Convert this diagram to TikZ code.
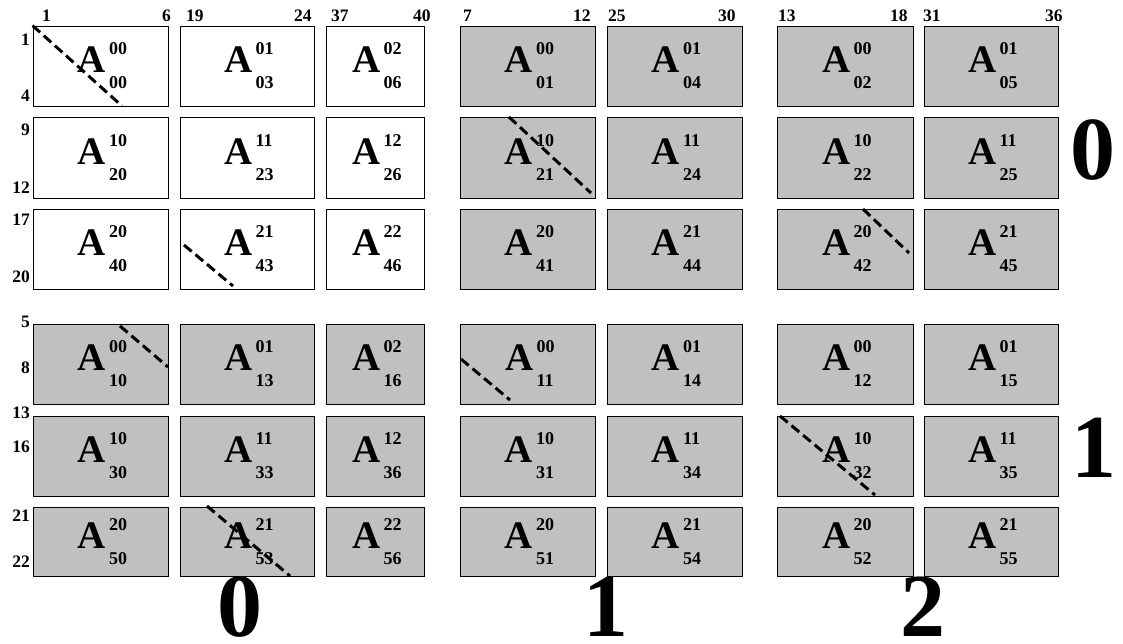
\documentclass[tikz,border=0pt]{standalone}
\usepackage{fontspec}
\setmainfont{Liberation Serif}

\definecolor{blkgray}{RGB}{192,192,192}

% block label: A with the block index on top and the local index below
\newcommand{\blk}[2]{{\fontsize{39}{39}\selectfont A}\hspace{3pt}{\fontsize{18}{18}\selectfont\rlap{\raisebox{18pt}{#1}}\raisebox{-16pt}{#2}}}

\tikzset{
  blkbox/.style={draw, line width=0.8pt, inner sep=0pt, font=\bfseries},
  idx/.style={inner sep=0pt, font=\bfseries\fontsize{17.5}{17.5}\selectfont},
  procid/.style={inner sep=0pt, font=\bfseries\fontsize{90}{90}\selectfont},
  diag/.style={line width=3pt, dash pattern=on 10pt off 5pt}
}

\begin{document}
\begin{tikzpicture}[x=1pt, y=-1pt]
\useasboundingbox (0,0) rectangle (1123,643);

% column: name/left/right/local col/block col/white ; row: name/top/bottom/local row/block row/white/raise
\foreach \cn/\xl/\xr/\lc/\bc/\cw in {a/33/168/0/0/1, b/180/314/3/1/1, c/326/424/6/2/1, d/460/595/1/0/0, e/607/742/4/1/0, f/777/913/2/0/0, g/924/1058/5/1/0}
  \foreach \rn/\yt/\yb/\lr/\br/\rw/\dy in {1/26/106/0/0/1/0, 2/117/198/2/1/1/0, 3/209/289/4/2/1/0, 4/324/404/1/0/0/0, 5/416/496/3/1/0/0, 6/507/576/5/2/0/5}
  {
    \pgfmathtruncatemacro\isw{\cw*\rw}
    \ifnum\isw=1 \def\bcol{white}\else\def\bcol{blkgray}\fi
    \node[blkbox, fill=\bcol, minimum width={(\xr-\xl)*1pt}, minimum height={(\yb-\yt)*1pt}]
      (\cn\rn) at ({(\xl+\xr)/2},{(\yt+\yb)/2}) {\hspace{4pt}\raisebox{\dy pt}{\blk{\br\bc}{\lr\lc}}};
  }

% diagonal pieces
\draw[diag] (a1.north west) -- (122,106);
\draw[diag] (184,245) -- (233,286);
\draw[diag] (509,117) -- (591,193);
\draw[diag] (863,209) -- (909,253);
\draw[diag] (120,326) -- (168,367);
\draw[diag] (207,506) -- (290,576);
\draw[diag] (461,359) -- (510,400);
\draw[diag] (780,416) -- (875,495);

% global column and row numbers
\foreach \t/\x [count=\i] in {1/42, 6/162, 19/186, 24/294, 37/331, 40/413, 7/463, 12/573, 25/608, 30/718, 13/778, 18/890, 31/923, 36/1045}
  \node[idx, anchor=base west] (top\i) at (\x,21) {\t};
\foreach \t/\y [count=\i] in {1/45, 4/101, 9/135, 12/193, 17/225, 20/282, 5/327, 8/373, 13/418, 16/452, 21/521, 22/567}
  \node[idx, anchor=base east] (side\i) at (30,\y) {\t};

% process grid coordinates
\node[procid, anchor=base] (prow0) at (1093,179) {0};
\node[procid, anchor=base] (prow1) at (1094,477) {1};
\node[procid, anchor=base] (pcol0) at (240,636) {0};
\node[procid, anchor=base] (pcol1) at (606,636) {1};
\node[procid, anchor=base] (pcol2) at (923,636) {2};
\end{tikzpicture}
\end{document}
